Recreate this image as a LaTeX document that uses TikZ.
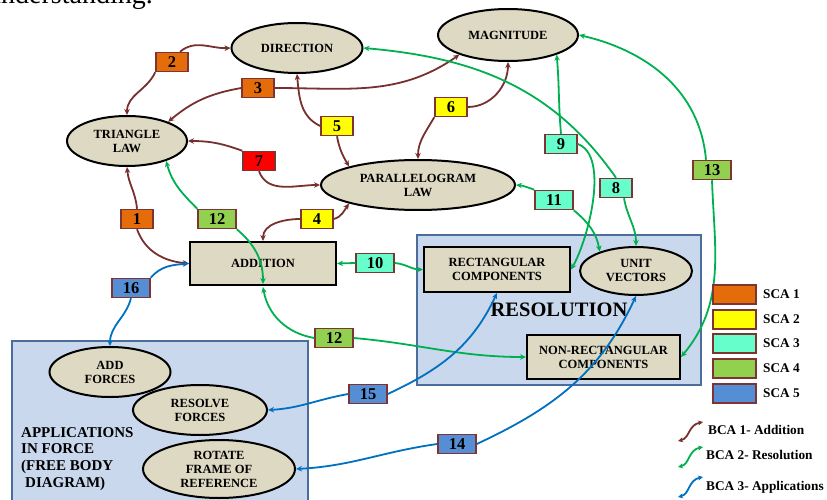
\documentclass[tikz,border=0pt]{standalone}
\usepackage{fontspec}
\setmainfont{Liberation Serif}
\usetikzlibrary{shapes.geometric,arrows.meta}
\definecolor{nodefill}{HTML}{DDD9C3}
\definecolor{tagbd}{HTML}{7F3434}
\definecolor{orng}{HTML}{E46C0A}
\definecolor{ylw}{HTML}{FFFF00}
\definecolor{cyn}{HTML}{66FFCC}
\definecolor{grn}{HTML}{92D050}
\definecolor{blu}{HTML}{558ED5}
\definecolor{redc}{HTML}{FF0000}
\definecolor{brnl}{HTML}{772F2F}
\definecolor{grnl}{HTML}{00B050}
\definecolor{blul}{HTML}{0070C0}
\definecolor{resfill}{HTML}{C9D8EC}
\definecolor{resbd}{HTML}{4A6D9C}
\newcommand\nodefont{\fontsize{12.5}{14}\selectfont\bfseries}
\newcommand\tagfont{\fontsize{16.5}{16.5}\selectfont\bfseries}
\newcommand\appfont{\fontsize{15}{16.7}\selectfont\bfseries}
\newcommand\legfont{\fontsize{13.3}{14}\selectfont\bfseries}
\newcommand\resfont{\fontsize{20.5}{21}\selectfont\bfseries}
\begin{document}
\begin{tikzpicture}[x=1pt,y=-1pt,
  ell/.style={ellipse,draw=black,line width=2pt,fill=nodefill,inner sep=0pt,align=center,font=\nodefont},
  rbox/.style={rectangle,draw=black,line width=2pt,fill=nodefill,inner sep=0pt,align=center,font=\nodefont},
  tag/.style={rectangle,draw=tagbd,line width=1.5pt,minimum width=32pt,minimum height=19pt,inner sep=0pt,font=\tagfont},
  wtag/.style={tag,minimum width=38pt},
  sca/.style={rectangle,draw=tagbd,line width=1.7pt,minimum width=43pt,minimum height=19pt,inner sep=0pt},
  area/.style={rectangle,draw=resbd,line width=1.5pt,fill=resfill,inner sep=0pt},
  conn/.style={line width=1.8pt,-{Stealth[length=6pt,width=5.5pt]}},
  dconn/.style={line width=1.8pt,{Stealth[length=5pt,width=5pt]}-{Stealth[length=5pt,width=5pt]}},
  br/.style={conn,draw=brnl},
  gr/.style={conn,draw=grnl},
  bl/.style={conn,draw=blul},
  legtxt/.style={anchor=west,inner sep=0pt,font=\legfont}
]
\useasboundingbox (0,0) rectangle (827,500);

% cropped heading text
\node[anchor=base west,inner sep=0pt,font=\fontsize{28}{30}\selectfont] (head) at (-13,4) {understanding.};

% areas
\node[area,minimum width=284pt,minimum height=150pt] (resbox) at (559,310) {};
\node[area,minimum width=296pt,minimum height=170pt] (appbox) at (160,426) {};
\node[font=\resfont,inner sep=0pt] (restxt) at (559,310) {RESOLUTION};
\node[anchor=north west,align=left,font=\appfont,inner sep=0pt] (apptxt) at (21,427)
  {APPLICATIONS\\IN FORCE\\(FREE BODY\\\hspace*{4pt}DIAGRAM)};

% concept nodes
\node[ell,minimum width=131pt,minimum height=50pt] (dir) at (297,48) {DIRECTION};
\node[ell,minimum width=140pt,minimum height=52pt] (mag) at (508,35) {MAGNITUDE};
\node[ell,minimum width=120pt,minimum height=50pt] (tri) at (127,141) {TRIANGLE\\LAW};
\node[ell,minimum width=194pt,minimum height=50pt] (par) at (418,185) {PARALLELOGRAM\\LAW};
\node[rbox,minimum width=146pt,minimum height=43pt] (add) at (263,263.5) {ADDITION};
\node[rbox,minimum width=146pt,minimum height=45pt] (rect) at (497,269.5) {RECTANGULAR\\COMPONENTS};
\node[ell,minimum width=112pt,minimum height=48pt] (unit) at (636,271) {UNIT\\VECTORS};
\node[rbox,minimum width=153pt,minimum height=44pt] (nonrect) at (603.5,357) {NON-RECTANGULAR\\COMPONENTS};
\node[ell,minimum width=121pt,minimum height=50pt] (addf) at (110,372) {ADD\\FORCES};
\node[ell,minimum width=134pt,minimum height=50pt] (resf) at (200,410) {RESOLVE\\FORCES};
\node[ell,minimum width=152pt,minimum height=58pt] (rot) at (219,469) {ROTATE\\FRAME OF\\REFERENCE};

% tags
\node[tag,fill=orng] (t1) at (137,219) {1};
\node[tag,fill=orng] (t2) at (172,62) {2};
\node[tag,fill=orng] (t3) at (258,88) {3};
\node[tag,fill=ylw] (t4) at (317,219) {4};
\node[tag,fill=ylw] (t5) at (337,126) {5};
\node[tag,fill=ylw] (t6) at (451,107) {6};
\node[tag,fill=redc] (t7) at (259,161) {7};
\node[tag,fill=cyn] (t8) at (616,188) {8};
\node[tag,fill=cyn] (t9) at (561,144) {9};
\node[wtag,fill=cyn] (t10) at (375,263) {10};
\node[wtag,fill=cyn] (t11) at (554,200) {11};
\node[wtag,fill=grn] (t12a) at (217,219) {12};
\node[wtag,fill=grn] (t12b) at (334,338) {12};
\node[wtag,fill=grn] (t13) at (712,170) {13};
\node[wtag,fill=blu] (t14) at (457,444) {14};
\node[wtag,fill=blu] (t15) at (368,394) {15};
\node[wtag,fill=blu] (t16) at (131,288) {16};

% BCA 1 (brown)
\draw[br] (t1.north) to[out=95,in=-85] (tri.south);
\draw[br] (t1.south) to[out=-70,in=175] (add.west);
\draw[br] ([xshift=8pt]t2.north) to[out=40,in=182] (dir.west);
\draw[br] (t2.south west) to[out=-115,in=90] (tri.north);
\draw[br] (t3.east) to[out=0,in=215] (mag.202);
\draw[br] (t3.west) to[out=190,in=40] (tri.25);
\draw[br] (t5.west) to[out=155,in=-85] (dir.south);
\draw[br] (t5.south) to[out=-80,in=120] (par.165);
\draw[br] (t6.east) to[out=0,in=-90] (mag.south);
\draw[br] (t6.south west) to[out=-120,in=90] (par.north);
\draw[br] (t7.north west) to[out=160,in=0] (tri.east);
\draw[br] (t7.south) to[out=-70,in=180] (par.west);
\draw[br] (t4.east) to[out=15,in=235] (par.195);
\draw[br] (t4.west) to[out=180,in=90] (add.north);

% BCA 2 (green)
\draw[gr] (t12a.north west) to[out=135,in=-75] (tri.-27);
\draw[gr] (t12a.south east) to[out=-40,in=90] ([yshift=2pt]add.south);
\draw[gr] (t12b.west) to[out=170,in=-80] ([yshift=-1pt]add.south);
\draw[gr] (t12b.east) to[out=-5,in=180] (nonrect.west);
\draw[gr] (t10.west) -- (add.east);
\draw[gr] (t10.east) to[out=-5,in=180] (rect.west);
\draw[gr] (t11.north west) to[out=160,in=-5] (par.east);
\draw[gr] (t11.south east) to[out=-40,in=100] (unit.152);
\draw[gr] (t9.north) to[out=95,in=-85] (mag.-22);
\draw[gr] (t9.east) to[out=-20,in=60,looseness=0.7] (rect.east);
\draw[gr] (t8.north) to[out=125,in=-5] (dir.east);
\draw[gr] ([xshift=8pt]t8.south) to[out=-80,in=90] (unit.north);
\draw[gr] ([xshift=-6pt]t13.north) to[out=95,in=-13] (mag.east);
\draw[gr] (t13.south) to[out=-88,in=50] (nonrect.east);

% BCA 3 (blue)
\draw[bl] (t16.north east) to[out=50,in=185] (add.west);
\draw[bl] (t16.south) to[out=-105,in=90] (addf.north);
\draw[bl] (t15.west) to[out=190,in=3] (resf.east);
\draw[bl] (t15.east) to[out=25,in=-115] (rect.south);
\draw[bl] (t14.west) to[out=188,in=3] (rot.east);
\draw[bl] (t14.east) to[out=25,in=-115] (unit.south);

% legend SCA
\node[sca,fill=orng] (s1) at (734.5,294.5) {};
\node[sca,fill=ylw] (s2) at (734.5,319.5) {};
\node[sca,fill=cyn] (s3) at (734.5,343.5) {};
\node[sca,fill=grn] (s4) at (734.5,368.5) {};
\node[sca,fill=blu] (s5) at (734.5,393.5) {};
\node[legtxt] (l1) at (763,294.5) {SCA 1};
\node[legtxt] (l2) at (763,319.5) {SCA 2};
\node[legtxt] (l3) at (763,343.5) {SCA 3};
\node[legtxt] (l4) at (763,368.5) {SCA 4};
\node[legtxt] (l5) at (763,393.5) {SCA 5};

% legend BCA
\coordinate (b1a) at (678,441);
\coordinate (b1b) at (703,422);
\coordinate (b2a) at (678,467);
\coordinate (b2b) at (703,447);
\coordinate (b3a) at (678,497);
\coordinate (b3b) at (703,477);
\draw[dconn,draw=brnl] (b1a) .. controls (690,438) and (688,425) .. (b1b);
\draw[dconn,draw=grnl] (b2a) .. controls (690,464) and (688,450) .. (b2b);
\draw[dconn,draw=blul] (b3a) .. controls (690,494) and (688,480) .. (b3b);
\node[legtxt] (c1) at (708,430) {BCA 1- Addition};
\node[legtxt] (c2) at (706,455) {BCA 2- Resolution};
\node[legtxt] (c3) at (706,487) {BCA 3- Applications};
\end{tikzpicture}
\end{document}
